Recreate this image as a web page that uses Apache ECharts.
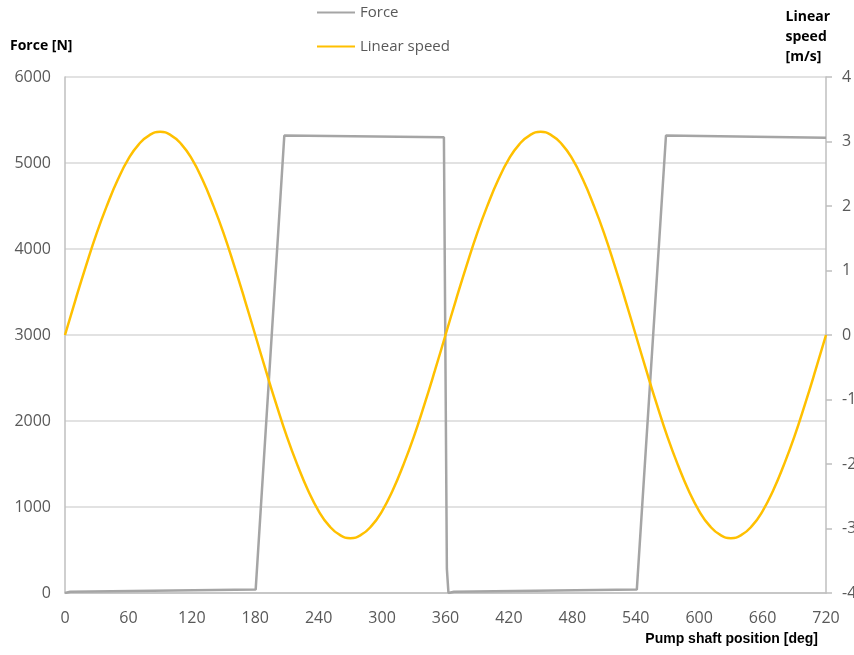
<!DOCTYPE html>
<html>
<head>
<meta charset="utf-8">
<script src="https://cdn.jsdelivr.net/npm/echarts@6/dist/echarts.min.js"></script>
<style>html,body{margin:0;padding:0;background:#fff}#c{width:854px;height:655px}</style>
</head>
<body>
<div id="c"></div>
<script>
// Pump shaft position [deg] and force [N]
const forceX = [0, 5, 180.4, 207.5, 358.5, 361.3, 362.8, 368, 541, 568.6, 720];
const forceY = [0, 15, 40, 5320, 5300, 280, 0, 15, 40, 5320, 5295];
// Linear speed [m/s], every 10 deg
const speedX = [0,10,20,30,40,50,60,70,80,90,100,110,120,130,140,150,160,170,180,
  190,200,210,220,230,240,250,260,270,280,290,300,310,320,330,340,350,360,
  370,380,390,400,410,420,430,440,450,460,470,480,490,500,510,520,530,540,
  550,560,570,580,590,600,610,620,630,640,650,660,670,680,690,700,710,720];
const speedY = [0,0.55,1.08,1.58,2.02,2.41,2.73,2.96,3.10,3.15,3.10,2.96,2.73,2.41,2.02,1.58,1.08,0.55,0,
  -0.55,-1.08,-1.58,-2.02,-2.41,-2.73,-2.96,-3.10,-3.15,-3.10,-2.96,-2.73,-2.41,-2.02,-1.58,-1.08,-0.55,0,
  0.55,1.08,1.58,2.02,2.41,2.73,2.96,3.10,3.15,3.10,2.96,2.73,2.41,2.02,1.58,1.08,0.55,0,
  -0.55,-1.08,-1.58,-2.02,-2.41,-2.73,-2.96,-3.10,-3.15,-3.10,-2.96,-2.73,-2.41,-2.02,-1.58,-1.08,-0.55,0];

const FONT = "'Open Sans', sans-serif";
const chart = echarts.init(document.getElementById('c'), null, {renderer: 'canvas'});
chart.setOption({
  animation: false,
  backgroundColor: '#fff',
  grid: {left: 65, right: 28, top: 77, bottom: 62, containLabel: false, outerBoundsMode: 'none'},
  legend: {
    orient: 'vertical', left: 312, top: 0, itemGap: 19,
    itemWidth: 38, itemHeight: 14,
    textStyle: {color: '#595959', fontSize: 15, fontFamily: FONT},
    data: [{name: 'Force', icon: 'path://M0,6 L38,6 L38,8 L0,8 Z'}, {name: 'Linear speed', icon: 'path://M0,6 L38,6 L38,8 L0,8 Z'}]
  },
  xAxis: {
    type: 'value', min: 0, max: 720, interval: 60,
    axisLine: {show: true, lineStyle: {color: '#bfbfbf', width: 1.5}},
    axisTick: {show: false},
    splitLine: {show: false},
    axisLabel: {color: '#595959', fontSize: 16, fontFamily: FONT, margin: 17}
  },
  yAxis: [{
    type: 'value', min: 0, max: 6000, interval: 1000, position: 'left',
    axisLine: {show: true, lineStyle: {color: '#bfbfbf', width: 1.5}},
    axisTick: {show: false},
    splitLine: {show: true, lineStyle: {color: '#d9d9d9', width: 1.5}},
    axisLabel: {color: '#595959', fontSize: 16, fontFamily: FONT, margin: 14, formatter: v => String(v)}
  }, {
    type: 'value', min: -4, max: 4, interval: 1, position: 'right',
    axisLine: {show: true, lineStyle: {color: '#bfbfbf', width: 1.5}},
    axisTick: {show: true, inside: false, length: 6, lineStyle: {color: '#bfbfbf', width: 1.5}},
    splitLine: {show: false},
    axisLabel: {color: '#595959', fontSize: 16, fontFamily: FONT, margin: 16, formatter: v => String(v)}
  }],
  graphic: [
    {type: 'text', left: 10, top: 39, style: {text: 'Force [N]', fill: '#000', font: "bold 14px 'Open Sans', sans-serif"}},
    {type: 'text', right: 24, top: 7, style: {text: 'Linear\nspeed\n[m/s]', fill: '#000', align: 'center', lineHeight: 20, font: "bold 14px 'Open Sans', sans-serif"}},
    {type: 'text', right: 36, top: 632, style: {text: 'Pump shaft position [deg]', fill: '#000', font: "bold 14px 'Liberation Sans Narrow', 'Liberation Sans', sans-serif"}}
  ],
  series: [{
    name: 'Force', type: 'line', yAxisIndex: 0, symbol: 'none',
    lineStyle: {color: '#a5a5a5', width: 2.5}, itemStyle: {color: '#a5a5a5'},
    data: forceX.map((x, i) => [x, forceY[i]])
  }, {
    name: 'Linear speed', type: 'line', yAxisIndex: 1, symbol: 'none', smooth: true,
    lineStyle: {color: '#ffc000', width: 2.5}, itemStyle: {color: '#ffc000'},
    data: speedX.map((x, i) => [x, speedY[i]])
  }]
});
</script>
</body>
</html>
